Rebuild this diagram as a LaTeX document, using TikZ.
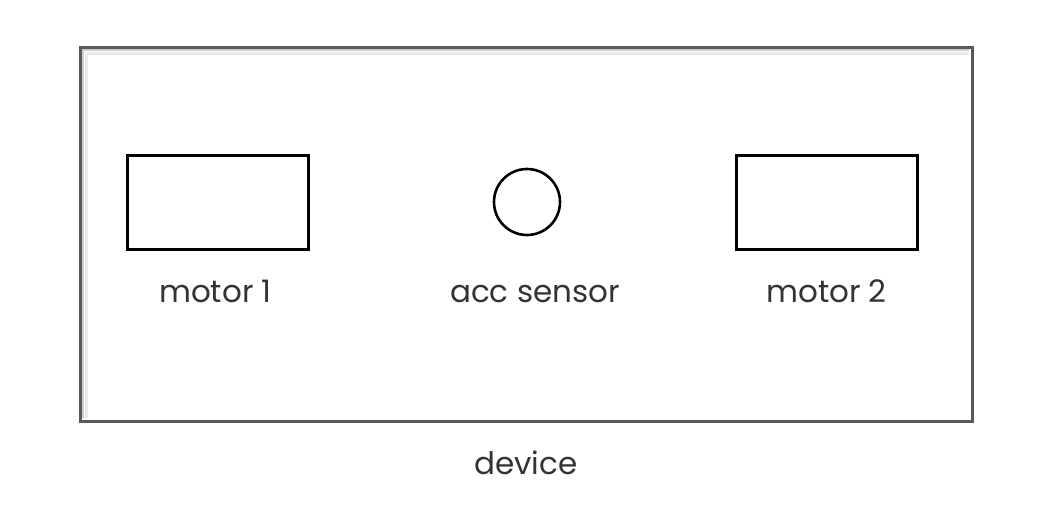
\documentclass[tikz,border=0pt]{standalone}
\usepackage{fontspec}
\setmainfont{Poppins}
\usepackage{tikz}
\usetikzlibrary{shapes.geometric, positioning}
\tikzstyle{devicebox} = [rectangle, minimum width=892pt, minimum height=374pt, draw=black!65, line width=3pt, fill=white]
\tikzstyle{motor} = [rectangle, minimum width=181pt, minimum height=94pt, draw=black, line width=3pt, inner sep=0pt]
\tikzstyle{sensor} = [circle, minimum size=66pt, draw=black, line width=2.6pt, inner sep=0pt]
\tikzstyle{label} = [font=\fontsize{31}{34}\selectfont, text=black!80, text height=0.75em, text depth=0.25em]

\begin{document}
\begin{tikzpicture}[x=1pt, y=-1pt, node distance=98pt]
\useasboundingbox (0,0) rectangle (1046,506);

\node (device) [devicebox] at (526,234) {};
% soft inner shadow on top and left
\draw [black!20, line width=2pt] (83,418) -- (83,50) -- (969,50);
\draw [black!8, line width=3pt] (86,418) -- (86,53) -- (969,53);

\node (motor1) [motor] at (217.5,202) {};

\node (acc) [sensor] at (527,202) {};

\node (motor2) [motor] at (826.5,202) {};

\node (motor1label) [label, below of=motor1, xshift=-2pt] {motor 1};

\node (acclabel) [label, below of=acc, xshift=8pt] {acc sensor};

\node (motor2label) [label, below of=motor2] {motor 2};

\node (devicelabel) [label, below of=device, node distance=238pt] {device};

\end{tikzpicture}
\end{document}
